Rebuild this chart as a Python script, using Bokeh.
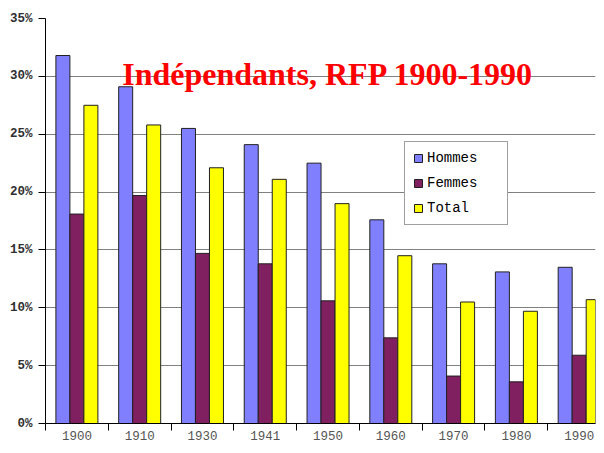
from bokeh.plotting import figure
from bokeh.models import (ColumnDataSource, FixedTicker, Range1d, NumeralTickFormatter,
                          Legend, LegendItem, Label)
from bokeh.transform import dodge
from bokeh.embed import file_html
from bokeh.resources import INLINE

years = ["1900", "1910", "1930", "1941", "1950", "1960", "1970", "1980", "1990"]
hommes = [0.318, 0.291, 0.255, 0.241, 0.225, 0.176, 0.138, 0.131, 0.135]
femmes = [0.181, 0.197, 0.147, 0.138, 0.106, 0.074, 0.041, 0.036, 0.059]
total = [0.275, 0.258, 0.221, 0.211, 0.190, 0.145, 0.105, 0.097, 0.107]
y_ticks = [0, 0.05, 0.10, 0.15, 0.20, 0.25, 0.30, 0.35]
title_text = "Indépendants, RFP 1900-1990"

xi = [i + 0.5 for i in range(len(years))]
src = ColumnDataSource(dict(x=xi, hommes=hommes, femmes=femmes, total=total))

# the chart is cut at the right edge: the last category is only partly visible
p = figure(width=596, height=445, output_backend="svg", toolbar_location=None,
           x_range=Range1d(0, 8.76), y_range=Range1d(0, 0.35),
           min_border_left=45, min_border_right=1, min_border_top=18, min_border_bottom=22)
p.outline_line_color = None
p.background_fill_color = "white"
p.border_fill_color = "white"

bw = 0.223
lc = "#202020"
r1 = p.vbar(x=dodge("x", -bw, range=p.x_range), top="hommes", width=bw, source=src,
            fill_color="#8080FF", line_color=lc, line_width=1)
r2 = p.vbar(x=dodge("x", 0, range=p.x_range), top="femmes", width=bw, source=src,
            fill_color="#802060", line_color=lc, line_width=1)
r3 = p.vbar(x=dodge("x", bw, range=p.x_range), top="total", width=bw, source=src,
            fill_color="#FFFF00", line_color=lc, line_width=1)

# axes
p.xgrid.grid_line_color = None
p.ygrid.ticker = FixedTicker(ticks=y_ticks)
p.ygrid.grid_line_color = "#808080"
p.ygrid.grid_line_width = 1

p.yaxis.ticker = FixedTicker(ticks=y_ticks)
p.yaxis.formatter = NumeralTickFormatter(format="0%")
p.yaxis.axis_line_color = "black"
p.yaxis.major_tick_out = 7
p.yaxis.major_tick_in = 0
p.yaxis.minor_tick_out = 0
p.yaxis.minor_tick_in = 0
p.yaxis.major_label_standoff = 6
p.yaxis.major_label_text_font = "Liberation Mono"
p.yaxis.major_label_text_font_size = "12.5px"
p.yaxis.major_label_text_font_style = "bold"
p.yaxis.major_label_text_color = "#303030"

p.xaxis.ticker = FixedTicker(ticks=xi, minor_ticks=list(range(len(years) + 1)))
p.xaxis.major_label_overrides = {x: y for x, y in zip(xi, years)}
p.xaxis.axis_line_color = "black"
p.xaxis.major_tick_out = 0
p.xaxis.major_tick_in = 0
p.xaxis.minor_tick_out = 7
p.xaxis.minor_tick_in = 0
p.xaxis.minor_tick_line_color = "black"
p.xaxis.major_label_standoff = 0
p.xaxis.major_label_text_font = "Liberation Mono"
p.xaxis.major_label_text_font_size = "12.5px"
p.xaxis.major_label_text_color = "#555555"

legend = Legend(items=[LegendItem(label="Hommes", renderers=[r1]),
                       LegendItem(label="Femmes", renderers=[r2]),
                       LegendItem(label="Total", renderers=[r3])],
                location=(359, 198), orientation="vertical")
legend.border_line_color = "#404040"
legend.border_line_width = 1
legend.background_fill_alpha = 1
legend.padding = 8
legend.spacing = 9
legend.margin = 0
legend.glyph_width = 10
legend.glyph_height = 10
legend.label_height = 14
legend.label_width = 72
legend.label_standoff = 4
legend.label_text_font = "Liberation Mono"
legend.label_text_font_size = "14px"
legend.label_text_color = "black"
p.add_layout(legend)

title = Label(x=4.5, y=0.302, text=title_text, text_align="center",
              text_baseline="alphabetic", text_color="red",
              text_font="Liberation Serif", text_font_style="bold",
              text_font_size="32px")
p.add_layout(title)

open("out.html", "w").write(file_html(p, INLINE))
